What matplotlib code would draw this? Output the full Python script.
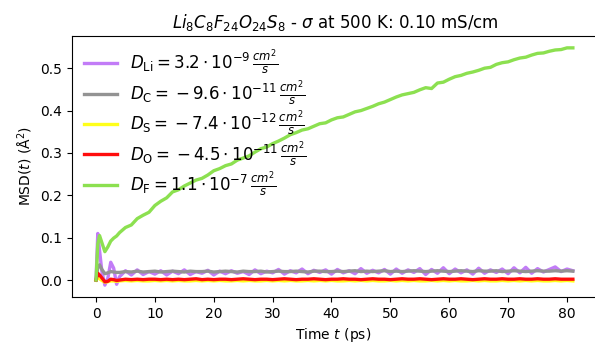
import matplotlib
matplotlib.use("Agg")
import matplotlib.pyplot as plt

# sampling times (ps): dense at the start, then every 1 ps
time_ps = [0, 0.3, 0.6, 1.0, 1.5, 2.0, 2.5, 3.0, 3.5] + list(range(4, 82))

# MSD values (Å^2)
msd_li = [0.000, 0.110, 0.070, 0.020, -0.012, 0.004, 0.042, 0.028, -0.010,
          0.008, 0.022, 0.012, 0.024, 0.013, 0.020, 0.014, 0.022, 0.012, 0.021,
          0.015, 0.024, 0.013, 0.020, 0.016, 0.023, 0.012, 0.021, 0.015, 0.022,
          0.016, 0.020, 0.013, 0.024, 0.015, 0.021, 0.017, 0.025, 0.014, 0.022,
          0.017, 0.026, 0.015, 0.023, 0.018, 0.024, 0.014, 0.025, 0.017, 0.022,
          0.015, 0.027, 0.016, 0.023, 0.017, 0.025, 0.014, 0.026, 0.016, 0.024,
          0.018, 0.027, 0.013, 0.025, 0.016, 0.029, 0.015, 0.026, 0.017, 0.024,
          0.014, 0.028, 0.016, 0.024, 0.018, 0.026, 0.015, 0.029, 0.017, 0.030,
          0.016, 0.027, 0.019, 0.025, 0.031, 0.020, 0.026, 0.022]
msd_c = [0.000, 0.030, 0.036, 0.025, 0.015, 0.017, 0.020, 0.019, 0.018,
         0.018, 0.020, 0.019, 0.021, 0.019, 0.020, 0.021, 0.019, 0.020, 0.021,
         0.020, 0.019, 0.021, 0.020, 0.020, 0.021, 0.019, 0.020, 0.021, 0.020,
         0.019, 0.021, 0.020, 0.020, 0.021, 0.019, 0.020, 0.021, 0.020, 0.020,
         0.021, 0.020, 0.019, 0.021, 0.021, 0.020, 0.020, 0.021, 0.020, 0.021,
         0.022, 0.020, 0.021, 0.020, 0.021, 0.022, 0.020, 0.021, 0.020, 0.021,
         0.022, 0.021, 0.020, 0.021, 0.022, 0.021, 0.020, 0.021, 0.022, 0.021,
         0.020, 0.022, 0.021, 0.021, 0.022, 0.020, 0.021, 0.022, 0.021, 0.020,
         0.021, 0.022, 0.021, 0.021, 0.022, 0.021, 0.022, 0.021]
msd_s = [0.000, 0.006, 0.003, -0.001, -0.005, -0.004, -0.002, -0.002, -0.003,
         -0.002, -0.001, -0.002, -0.001, -0.002, -0.002, -0.001, -0.002, -0.001, -0.002,
         -0.001, -0.002, -0.002, -0.001, -0.002, -0.001, -0.002, -0.001, -0.002, -0.002,
         -0.001, -0.002, -0.001, -0.002, -0.002, -0.001, -0.002, -0.001, -0.002, -0.001,
         -0.002, -0.002, -0.001, -0.002, -0.001, -0.002, -0.001, -0.002, -0.002, -0.001,
         -0.002, -0.001, -0.002, -0.001, -0.002, -0.002, -0.001, -0.002, -0.001, -0.002,
         -0.001, -0.002, -0.002, -0.001, -0.002, -0.001, -0.002, -0.001, -0.002, -0.002,
         -0.001, -0.002, -0.001, -0.002, -0.002, -0.001, -0.002, -0.001, -0.002, -0.001,
         -0.002, -0.001, -0.002, -0.002, -0.001, -0.002, -0.001, -0.002]
msd_o = [0.000, 0.016, 0.012, 0.005, -0.004, -0.003, 0.002, 0.001, -0.001,
         0.000, 0.002, 0.001, 0.002, 0.001, 0.002, 0.002, 0.001, 0.002, 0.001,
         0.002, 0.001, 0.002, 0.003, 0.001, 0.002, 0.001, 0.002, 0.002, 0.001,
         0.002, 0.003, 0.002, 0.001, 0.002, 0.002, 0.001, 0.002, 0.003, 0.002,
         0.001, 0.002, 0.002, 0.003, 0.002, 0.001, 0.002, 0.002, 0.003, 0.002,
         0.002, 0.001, 0.002, 0.003, 0.002, 0.002, 0.001, 0.002, 0.003, 0.002,
         0.002, 0.003, 0.002, 0.001, 0.002, 0.003, 0.002, 0.002, 0.003, 0.002,
         0.001, 0.002, 0.003, 0.002, 0.002, 0.003, 0.002, 0.002, 0.003, 0.002,
         0.002, 0.003, 0.002, 0.002, 0.003, 0.002, 0.002, 0.002]
msd_f = [0.000, 0.085, 0.105, 0.088, 0.067, 0.078, 0.092, 0.099, 0.104,
         0.112, 0.124, 0.130, 0.145, 0.153, 0.160, 0.176, 0.186, 0.194, 0.208,
         0.213, 0.222, 0.229, 0.236, 0.240, 0.248, 0.258, 0.263, 0.270, 0.274,
         0.283, 0.288, 0.293, 0.302, 0.310, 0.314, 0.322, 0.328, 0.335, 0.343,
         0.348, 0.354, 0.357, 0.363, 0.369, 0.371, 0.378, 0.383, 0.385, 0.391,
         0.397, 0.400, 0.405, 0.410, 0.416, 0.420, 0.426, 0.432, 0.437, 0.440,
         0.443, 0.449, 0.454, 0.452, 0.465, 0.467, 0.474, 0.480, 0.483, 0.488,
         0.491, 0.495, 0.500, 0.502, 0.509, 0.513, 0.515, 0.520, 0.524, 0.526,
         0.531, 0.535, 0.536, 0.540, 0.543, 0.544, 0.548, 0.548]

species = ["Li", "C", "S", "O", "F"]
diff_coeffs = ["3.2 \\cdot 10^{-9}", "{}-9.6 \\cdot 10^{-11}", "{}-7.4 \\cdot 10^{-12}",
               "{}-4.5 \\cdot 10^{-11}", "1.1 \\cdot 10^{-7}"]
colors = ["#c27cf7", "#939393", "#ffff1a", "#ff0d0d", "#8ce050"]

series = [msd_li, msd_c, msd_s, msd_o, msd_f]

fig = plt.figure(figsize=(5.95, 3.48), dpi=100)
# the reference crops the plot at its right edge: no right spine is shown
ax = fig.add_axes([72 / 595, 51 / 348, 523 / 595, 261 / 348])

for name, d, col, msd in zip(species, diff_coeffs, colors, series):
    label = r"$D_{\mathrm{%s}} = %s\,\frac{cm^2}{s}$" % (name, d)
    ax.plot(time_ps, msd, color=col, lw=2.4, label=label)

ax.set_xlim(-4.08, 84.76)
ax.spines["right"].set_visible(False)

ax.legend(loc="upper left", frameon=False, fontsize=12,
          labelspacing=0.1, handlelength=2.0, borderaxespad=0.3)
ax.set_xlabel(r"Time $t$ (ps)", fontsize=10)
ax.set_ylabel(r"MSD($t$) ($\mathrm{\AA}^2$)", fontsize=10)
ax.set_title(r"$Li_8C_8F_{24}O_{24}S_8$ - $\sigma$ at 500 K: 0.10 mS/cm",
             fontsize=12, x=(599 - 72) / 2 / 523)
ax.tick_params(labelsize=10)

fig.savefig("out.png", dpi=100)
